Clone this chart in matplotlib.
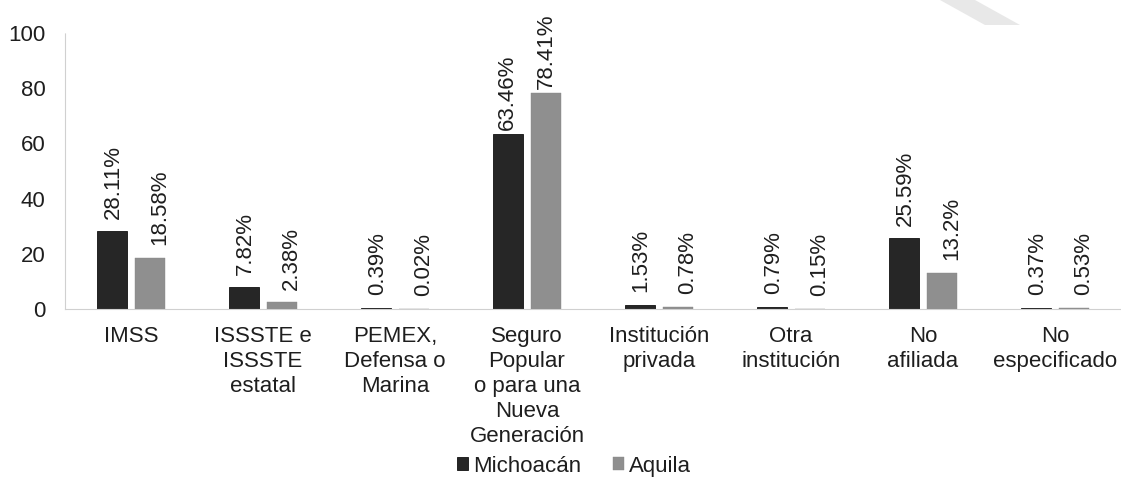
import matplotlib
matplotlib.use("Agg")
import matplotlib.pyplot as plt
from matplotlib.patches import Polygon
import numpy as np

plt.rcParams['font.family'] = ['Liberation Sans', 'DejaVu Sans']

categories = ["IMSS", "ISSSTE e\nISSSTE\nestatal", "PEMEX,\nDefensa o\nMarina",
              "Seguro\nPopular\no para una\nNueva\nGeneración", "Institución\nprivada",
              "Otra\ninstitución", "No\nafiliada", "No\nespecificado"]
michoacan = [28.11, 7.82, 0.39, 63.46, 1.53, 0.79, 25.59, 0.37]
aquila = [18.58, 2.38, 0.02, 78.41, 0.78, 0.15, 13.2, 0.53]
series_names = ["Michoacán", "Aquila"]
yticks = [0, 20, 40, 60, 80, 100]

FS = 16
TXT = '#1e1e1e'

fig = plt.figure(figsize=(11.21, 4.90), dpi=100)
ax = fig.add_axes([65/1121, 181/490, (1121-65)/1121, (309-33)/490])

x = np.arange(len(categories))
w = 0.227
off = 0.145
c1, c2 = '#262626', '#8f8f8f'
b1 = ax.bar(x - off, michoacan, w, color=c1, edgecolor='#111111', linewidth=0.6, label=series_names[0])
b2 = ax.bar(x + off, aquila, w, color=c2, edgecolor='#888888', linewidth=0.3, label=series_names[1])

def label(v):
    s = f"{v:g}"
    if '.' in s and len(s.split('.')[1]) == 1 and v < 1:
        s = f"{v:.2f}"
    return s + "%"

for xs, vals, dx in ((x - off, michoacan, 1), (x + off, aquila, 7)):
    for xi, v in zip(xs, vals):
        big = v > 60
        ax.annotate(label(v), (xi, v), xytext=(0 if big else dx, 2.5 if big else 9),
                    textcoords='offset points', rotation=90, ha='center', va='bottom',
                    fontsize=FS, color=TXT, annotation_clip=False)

ax.set_xlim(-0.5, len(categories) - 0.5)
ax.set_ylim(0, 100)
ax.set_yticks(yticks)
ax.set_yticklabels([str(t) for t in yticks], fontsize=FS, color=TXT)
ax.set_xticks(x)
ax.set_xticklabels(categories, fontsize=FS, color=TXT, linespacing=1.26, va='top')
ax.tick_params(axis='both', length=0)
ax.tick_params(axis='y', pad=14)
ax.tick_params(axis='x', pad=12)
for s in ['top', 'right']:
    ax.spines[s].set_visible(False)
for s in ['left', 'bottom']:
    ax.spines[s].set_color('#d0d0d0')
    ax.spines[s].set_linewidth(0.8)
    ax.spines[s].set_linestyle((0, (2, 1)))

leg = fig.legend(handles=[b1, b2], labels=series_names, loc='center',
                 bbox_to_anchor=(574/1121, 1 - 466/490), ncol=2, frameon=False,
                 fontsize=FS, handlelength=0.5, handleheight=0.5,
                 handletextpad=0.22, columnspacing=1.4, borderpad=0.2)
for t in leg.get_texts():
    t.set_color(TXT)

# faint watermark shape in top-right corner
wm = Polygon([(940/1121, 1.0), (975/1121, 1.0), (1020/1121, 1 - 25/490), (985/1121, 1 - 25/490)],
             closed=True, transform=fig.transFigure, facecolor='#e8e8e8', edgecolor='none')
fig.patches.append(wm)

fig.savefig('out.png', dpi=100)
